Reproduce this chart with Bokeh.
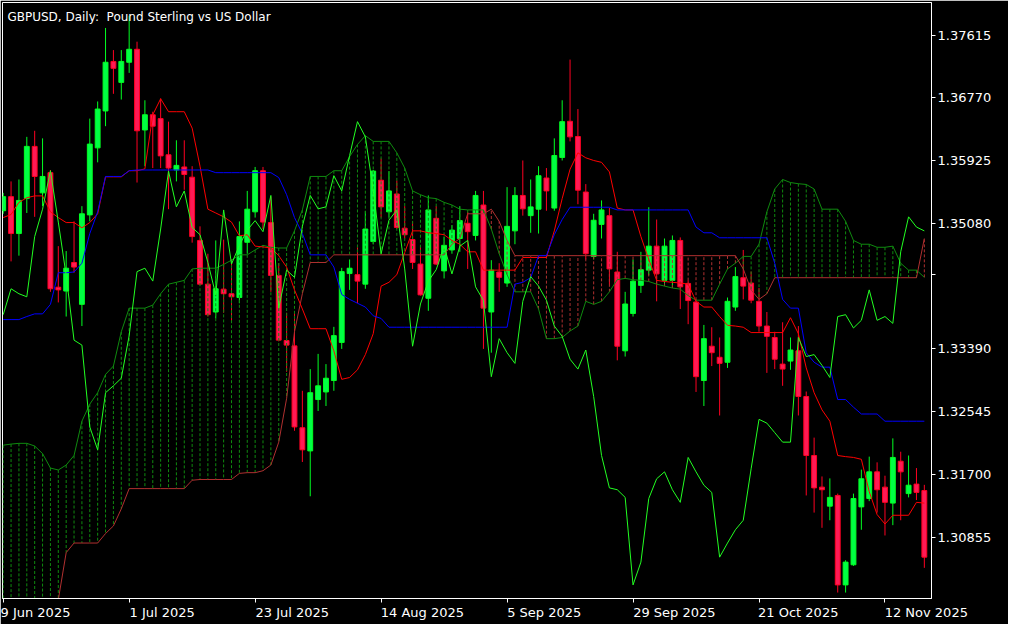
import pandas as pd
from bokeh.plotting import figure
from bokeh.models import ColumnDataSource, FixedTicker, Range1d, Label, PrintfTickFormatter, AllLabels
from bokeh.embed import file_html
from bokeh.resources import INLINE

# ---------------- data (GBPUSD daily) ----------------
opens = [1.35250, 1.35440, 1.34943, 1.35414, 1.36117, 1.35491, 1.35763, 1.34220, 1.34168, 1.34553,
         1.33989, 1.35194, 1.36097, 1.36594, 1.37261, 1.36979, 1.37250, 1.37425, 1.36338, 1.36543,
         1.36491, 1.36004, 1.35799, 1.35840, 1.35702, 1.34850, 1.34261, 1.33886, 1.34194, 1.34132,
         1.34081, 1.34825, 1.35235, 1.35789, 1.35091, 1.34379, 1.33502, 1.33430, 1.32327, 1.32015,
         1.32707, 1.32809, 1.32963, 1.33476, 1.34404, 1.34389, 1.34261, 1.34835, 1.35661, 1.35235,
         1.35476, 1.35015, 1.34861, 1.34532, 1.34071, 1.35148, 1.34440, 1.34722, 1.34876, 1.35081,
         1.34917, 1.35327, 1.33886, 1.34425, 1.34276, 1.34979, 1.35456, 1.35184, 1.35271, 1.35691,
         1.35286, 1.35968, 1.36455, 1.36250, 1.35502, 1.34635, 1.35066, 1.35184, 1.34425, 1.33363,
         1.33866, 1.34245, 1.34450, 1.34773, 1.34312, 1.34312, 1.34850, 1.34271, 1.34020, 1.32963,
         1.33425, 1.33276, 1.33209, 1.33953, 1.34348, 1.34276, 1.34030, 1.33697, 1.33543, 1.33184,
         1.33225, 1.33363, 1.32748, 1.31953, 1.31527, 1.31271, 1.31415, 1.30210, 1.30481, 1.31261,
         1.31374, 1.31733, 1.31527, 1.31312, 1.31876, 1.31440, 1.31568, 1.31481]
highs = [1.35491, 1.35645, 1.35671, 1.36245, 1.36327, 1.36225, 1.35799, 1.34773, 1.34707, 1.35107,
         1.35312, 1.36491, 1.36722, 1.37712, 1.37414, 1.37414, 1.37876, 1.37527, 1.36738, 1.36584,
         1.36763, 1.36450, 1.36199, 1.36199, 1.35850, 1.35040, 1.34671, 1.34850, 1.34861, 1.34594,
         1.35107, 1.35517, 1.35840, 1.35840, 1.35440, 1.34543, 1.33876, 1.33876, 1.32825, 1.33117,
         1.33322, 1.33184, 1.33686, 1.34481, 1.34594, 1.34758, 1.35245, 1.35799, 1.35953, 1.35784,
         1.35656, 1.35312, 1.35107, 1.34773, 1.35456, 1.35312, 1.34902, 1.35056, 1.35312, 1.35235,
         1.35517, 1.35517, 1.34584, 1.34543, 1.35568, 1.35568, 1.35927, 1.35671, 1.35850, 1.35825,
         1.36225, 1.36738, 1.37286, 1.36620, 1.35609, 1.35209, 1.35389, 1.35286, 1.34697, 1.34158,
         1.34594, 1.34697, 1.35297, 1.35132, 1.34876, 1.34917, 1.34891, 1.34312, 1.34056, 1.33712,
         1.33681, 1.33543, 1.34081, 1.34491, 1.34722, 1.34430, 1.34209, 1.33886, 1.33620, 1.33748,
         1.33543, 1.33697, 1.32815, 1.32194, 1.31671, 1.31645, 1.31440, 1.30543, 1.31440, 1.31763,
         1.31938, 1.31861, 1.31681, 1.32184, 1.32004, 1.31953, 1.31784, 1.31558]
lows = [1.35209, 1.34568, 1.34645, 1.35220, 1.35168, 1.35312, 1.34158, 1.34015, 1.33825, 1.34415,
        1.33697, 1.35107, 1.35902, 1.36389, 1.36825, 1.36748, 1.37107, 1.35630, 1.35850, 1.35825,
        1.35825, 1.35271, 1.35645, 1.35532, 1.34820, 1.34245, 1.33825, 1.33799, 1.33876, 1.33748,
        1.34004, 1.34671, 1.35158, 1.35004, 1.34158, 1.33491, 1.33081, 1.32286, 1.31866, 1.31404,
        1.32553, 1.32620, 1.32825, 1.33389, 1.34184, 1.34004, 1.34199, 1.34799, 1.35158, 1.35158,
        1.35004, 1.34876, 1.34466, 1.34107, 1.33902, 1.34517, 1.34338, 1.34671, 1.34697, 1.34466,
        1.34850, 1.33389, 1.33338, 1.34158, 1.34225, 1.34799, 1.35184, 1.34953, 1.34943, 1.35250,
        1.35250, 1.35927, 1.36184, 1.35338, 1.34594, 1.34594, 1.34876, 1.34261, 1.33235, 1.33286,
        1.33825, 1.34143, 1.34379, 1.34030, 1.34235, 1.34209, 1.33927, 1.33722, 1.32809, 1.32620,
        1.33158, 1.32492, 1.33133, 1.33902, 1.34056, 1.34004, 1.33620, 1.33066, 1.33117, 1.32892,
        1.33107, 1.32492, 1.31415, 1.31184, 1.30979, 1.31081, 1.30107, 1.30107, 1.30466, 1.30953,
        1.31338, 1.31184, 1.30876, 1.31015, 1.31081, 1.31389, 1.31353, 1.30440]
closes = [1.35440, 1.34943, 1.35389, 1.36117, 1.35712, 1.35712, 1.34199, 1.34184, 1.34476, 1.34491,
          1.35209, 1.36148, 1.36620, 1.37250, 1.37168, 1.37261, 1.37425, 1.36327, 1.36543, 1.36389,
          1.35989, 1.35825, 1.35861, 1.35738, 1.34902, 1.34261, 1.33850, 1.34199, 1.34132, 1.34091,
          1.34902, 1.35271, 1.35789, 1.35097, 1.34379, 1.33507, 1.33440, 1.32338, 1.32030, 1.32799,
          1.32892, 1.32994, 1.33568, 1.34430, 1.34476, 1.34302, 1.35004, 1.35784, 1.35302, 1.35517,
          1.35025, 1.34927, 1.34553, 1.34117, 1.35261, 1.34532, 1.34784, 1.34989, 1.35117, 1.34968,
          1.35456, 1.33938, 1.34450, 1.34353, 1.35040, 1.35456, 1.35276, 1.35302, 1.35722, 1.35517,
          1.35994, 1.36450, 1.36245, 1.35527, 1.34671, 1.35122, 1.35261, 1.34466, 1.33425, 1.33994,
          1.34302, 1.34456, 1.34773, 1.34399, 1.34773, 1.34850, 1.34225, 1.34040, 1.33015, 1.33527,
          1.33338, 1.33194, 1.34030, 1.34363, 1.34235, 1.34045, 1.33697, 1.33558, 1.33250, 1.33117,
          1.33374, 1.32748, 1.31953, 1.31517, 1.31492, 1.31389, 1.30210, 1.30517, 1.31374, 1.31640,
          1.31733, 1.31492, 1.31322, 1.31927, 1.31733, 1.31553, 1.31456, 1.30584]

# Ichimoku lines
tenkan = [1.35158, 1.35199, 1.35363, 1.35425, 1.35450, 1.35450, 1.35235, 1.35158, 1.35091, 1.35091,
          1.35020, 1.35091, 1.35209, 1.35707, 1.35707, 1.35707, 1.35789, 1.35789, 1.35814, 1.36543,
          1.36758, 1.36584, 1.36584, 1.36584, 1.36363, 1.35850, 1.35271, 1.35220, 1.35168, 1.35097,
          1.34912, 1.34927, 1.34773, 1.34763, 1.34748, 1.34645, 1.34491, 1.34184, 1.33927, 1.33661,
          1.33661, 1.33661, 1.33363, 1.32979, 1.33004, 1.33107, 1.33312, 1.33594, 1.34235, 1.34286,
          1.34389, 1.34686, 1.34979, 1.34979, 1.34953, 1.34943, 1.34927, 1.34850, 1.34799, 1.34697,
          1.34697, 1.34450, 1.34450, 1.34450, 1.34450, 1.34450, 1.34620, 1.34620, 1.34620, 1.34620,
          1.34979, 1.35414, 1.35809, 1.36030, 1.35963, 1.35927, 1.35902, 1.35773, 1.35286, 1.35261,
          1.35261, 1.34902, 1.34594, 1.34312, 1.34297, 1.34286, 1.34276, 1.34261, 1.34030, 1.33953,
          1.33953, 1.33825, 1.33707, 1.33697, 1.33681, 1.33609, 1.33609, 1.33609, 1.33609, 1.33609,
          1.33809, 1.33594, 1.33133, 1.32799, 1.32568, 1.32415, 1.31953, 1.31938, 1.31927, 1.31902,
          1.31466, 1.31158, 1.31030, 1.31148, 1.31148, 1.31148, 1.31322, 1.31312]
kijun = [1.33784, 1.33784, 1.33784, 1.33825, 1.33861, 1.33861, 1.33989, 1.34415, 1.34415, 1.34425,
         1.34543, 1.34943, 1.35235, 1.35712, 1.35712, 1.35712, 1.35789, 1.35799, 1.35799, 1.35799,
         1.35799, 1.35799, 1.35799, 1.35799, 1.35799, 1.35799, 1.35799, 1.35763, 1.35763, 1.35763,
         1.35763, 1.35763, 1.35763, 1.35763, 1.35763, 1.35697, 1.35466, 1.35158, 1.34943, 1.34656,
         1.34656, 1.34656, 1.34491, 1.34122, 1.34056, 1.34004, 1.33953, 1.33835, 1.33799, 1.33681,
         1.33681, 1.33681, 1.33681, 1.33681, 1.33681, 1.33681, 1.33681, 1.33681, 1.33681, 1.33681,
         1.33681, 1.33681, 1.33681, 1.33681, 1.33681, 1.34261, 1.34286, 1.34348, 1.34645, 1.34645,
         1.34927, 1.35132, 1.35297, 1.35297, 1.35297, 1.35297, 1.35297, 1.35297, 1.35261, 1.35261,
         1.35261, 1.35261, 1.35261, 1.35261, 1.35261, 1.35261, 1.35261, 1.35261, 1.35030, 1.34953,
         1.34953, 1.34886, 1.34886, 1.34886, 1.34886, 1.34886, 1.34886, 1.34886, 1.34543, 1.34056,
         1.33938, 1.33938, 1.33338, 1.33209, 1.33143, 1.33143, 1.32707, 1.32707, 1.32604, 1.32512,
         1.32512, 1.32512, 1.32415, 1.32415, 1.32415, 1.32415, 1.32415, 1.32415]
span_a = [1.32092, 1.32107, 1.32117, 1.32117, 1.32081, 1.31979, 1.31784, 1.31758, 1.31825, 1.31953,
          1.32415, 1.32645, 1.32799, 1.33045, 1.33158, 1.33620, 1.33938, 1.33938, 1.33938, 1.33979,
          1.34132, 1.34261, 1.34286, 1.34312, 1.34466, 1.34476, 1.34476, 1.34476, 1.34527, 1.34584,
          1.34656, 1.34656, 1.34722, 1.34784, 1.34758, 1.34748, 1.34748, 1.34979, 1.35261, 1.35712,
          1.35712, 1.35712, 1.35789, 1.35789, 1.35979, 1.36143, 1.36261, 1.36184, 1.36184, 1.36184,
          1.36030, 1.35825, 1.35517, 1.35466, 1.35425, 1.35414, 1.35363, 1.35327, 1.35271, 1.35261,
          1.35261, 1.35261, 1.35004, 1.34671, 1.34389, 1.34158, 1.34158, 1.34158, 1.33927, 1.33527,
          1.33527, 1.33543, 1.33630, 1.33697, 1.34030, 1.33989, 1.34030, 1.34158, 1.34322, 1.34338,
          1.34322, 1.34312, 1.34297, 1.34261, 1.34235, 1.34209, 1.34194, 1.34107, 1.34045, 1.34045,
          1.34045, 1.34261, 1.34466, 1.34543, 1.34635, 1.34635, 1.34799, 1.35235, 1.35543, 1.35671,
          1.35630, 1.35614, 1.35604, 1.35543, 1.35271, 1.35271, 1.35271, 1.35107, 1.34850, 1.34799,
          1.34799, 1.34758, 1.34758, 1.34773, 1.34543, 1.34450, 1.34450, 1.34353]
span_b = [1.29600, 1.29600, 1.29600, 1.29600, 1.29600, 1.29600, 1.29600, 1.30010, 1.30645, 1.30774,
          1.30774, 1.30774, 1.30774, 1.30902, 1.31004, 1.31235, 1.31507, 1.31507, 1.31507, 1.31507,
          1.31507, 1.31507, 1.31507, 1.31507, 1.31620, 1.31630, 1.31630, 1.31630, 1.31630, 1.31630,
          1.31712, 1.31722, 1.31722, 1.31748, 1.31825, 1.32133, 1.32722, 1.33620, 1.34132, 1.34553,
          1.34553, 1.34553, 1.34656, 1.34656, 1.34656, 1.34656, 1.34656, 1.34656, 1.34656, 1.34656,
          1.34656, 1.34656, 1.34656, 1.34656, 1.34656, 1.34656, 1.34656, 1.34799, 1.34876, 1.35209,
          1.35209, 1.35209, 1.35271, 1.35107, 1.34850, 1.34645, 1.34645, 1.34645, 1.34645, 1.34645,
          1.34645, 1.34645, 1.34645, 1.34645, 1.34645, 1.34645, 1.34645, 1.34645, 1.34645, 1.34645,
          1.34645, 1.34645, 1.34645, 1.34645, 1.34645, 1.34645, 1.34645, 1.34645, 1.34645, 1.34645,
          1.34645, 1.34645, 1.34645, 1.34645, 1.34466, 1.34184, 1.34056, 1.34132, 1.34348, 1.34348,
          1.34348, 1.34348, 1.34348, 1.34348, 1.34348, 1.34348, 1.34348, 1.34348, 1.34348, 1.34348,
          1.34348, 1.34348, 1.34348, 1.34348, 1.34348, 1.34348, 1.34348, 1.34876]
# closes of the 26 bars after the last visible candle, seen only through the lagging (Chikou) line
chikou_ahead = [1.30774, 1.30953, 1.31081, 1.31774, 1.32440, 1.32389, 1.32261, 1.32133, 1.32133, 1.33543,
                1.33286, 1.33312, 1.33168, 1.33004, 1.33825, 1.33850, 1.33671, 1.33774, 1.34184, 1.33774,
                1.33825, 1.33733, 1.34697, 1.35168, 1.35030, 1.34979]

price_ticks = [1.37615, 1.36770, 1.35925, 1.35080, 1.33390, 1.32545, 1.31700, 1.30855]
bare_tick = [1.34389]
title_text = "GBPUSD, Daily:\u00a0 Pound Sterling vs US Dollar"

# ---------------- derived ----------------
n = len(closes)
x = list(range(n))
dates = pd.bdate_range("2025-06-09", periods=n)
date_labels = [f"{d.day} {d.strftime('%b %Y')}" for d in dates]
date_ticks = list(range(0, n, 16))
chikou = closes[26:] + chikou_ahead

# DejaVu Sans advance widths (em) used to left-align the date labels on their ticks
_W = {**{d: 0.636 for d in "0123456789"}, " ": 0.318, "J": 0.295, "u": 0.634, "n": 0.634,
      "l": 0.278, "A": 0.684, "g": 0.635, "S": 0.635, "e": 0.615, "p": 0.635, "O": 0.787,
      "c": 0.550, "t": 0.392, "N": 0.748, "o": 0.612, "v": 0.592}


def left_aligned(s):
    w = sum(_W.get(ch, 0.6) for ch in s)
    return "\u00a0" * round(w / 0.318) + s


BULL_FILL, BULL_LINE = "#00ff44", "#00ff22"
BEAR_FILL, BEAR_LINE = "#ff1a55", "#ff0022"
bull = [c >= o for o, c in zip(opens, closes)]
src = ColumnDataSource(dict(
    x=x, h=highs, l=lows,
    top=[max(o, c) for o, c in zip(opens, closes)],
    bottom=[min(o, c) for o, c in zip(opens, closes)],
    fill=[BULL_FILL if b else BEAR_FILL for b in bull],
    line=[BULL_LINE if b else BEAR_LINE for b in bull],
))
cloud = ColumnDataSource(dict(
    x=x, a=span_a, b=span_b,
    color=["#0f8a0f" if a >= b else "#b03030" for a, b in zip(span_a, span_b)],
))

p = figure(frame_width=929, frame_height=596,
           min_border_left=2, min_border_top=2, min_border_right=77, min_border_bottom=26,
           x_range=Range1d(-0.0875, 117.91), y_range=Range1d(1.30027, 1.38055),
           y_axis_location="right", toolbar_location=None, output_backend="svg",
           background_fill_color="black", border_fill_color="black")
p.xgrid.visible = False
p.ygrid.visible = False
p.outline_line_color = "white"
p.outline_line_width = 1

# candles
p.segment(x0="x", y0="h", x1="x", y1="l", line_color="line", line_width=1, source=src)
p.vbar(x="x", width=0.62, top="top", bottom="bottom", fill_color="fill",
       line_color="line", line_width=1, source=src)

# cloud hatch and lines
p.segment(x0="x", y0="a", x1="x", y1="b", line_color="color", line_width=1,
          line_dash="3 2", source=cloud)
p.line(x, span_a, line_color="#0f8a0f", line_width=1)
p.line(x, span_b, line_color="#b03030", line_width=1)
p.line(x, tenkan, line_color="#ff0000", line_width=1)
p.line(x, kijun, line_color="#0000ff", line_width=1)
p.line(x, chikou, line_color="#22ff22", line_width=1)

# axes
for ax in (p.xaxis[0], p.yaxis[0]):
    ax.axis_line_color = "white"
    ax.major_tick_line_color = "white"
    ax.minor_tick_line_color = "white"
    ax.major_label_text_color = "white"
    ax.major_label_text_font = "DejaVu Sans"
    ax.major_label_text_font_size = "13px"
    ax.major_tick_in = 0
    ax.major_tick_out = 4
    ax.minor_tick_in = 0
    ax.minor_tick_out = 4
    ax.major_label_standoff = 2

p.yaxis.ticker = FixedTicker(ticks=price_ticks, minor_ticks=bare_tick)
p.yaxis.formatter = PrintfTickFormatter(format="%.5f")
p.xaxis.ticker = FixedTicker(ticks=date_ticks)
# the first tick sits on the frame's left edge, where Bokeh already keeps its label inside
p.xaxis.major_label_overrides = {i: (date_labels[i] if i == 0 else left_aligned(date_labels[i]))
                                 for i in date_ticks}
p.xaxis.major_label_policy = AllLabels()

p.add_layout(Label(x=0.535, y=1.37853, text=title_text, text_color="white",
                   text_font="DejaVu Sans", text_font_size="12px",
                   text_baseline="alphabetic"))

open("out.html", "w").write(file_html(p, INLINE))
